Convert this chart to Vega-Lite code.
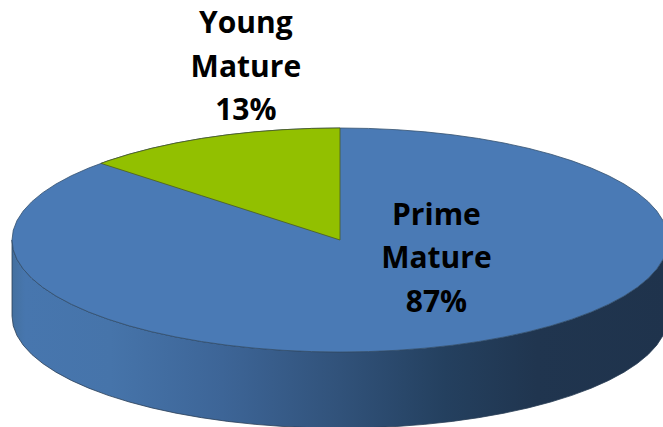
{
  "$schema": "https://vega.github.io/schema/vega-lite/v6.json",
  "width": 663,
  "height": 427,
  "padding": 0,
  "autosize": "none",
  "background": "white",
  "view": {"stroke": null},
  "datasets": {
    "disc": [
      {"x": -1, "top": 0, "bottom": 0, "base": -0.68},
      {"x": -0.9962, "top": 0.0872, "bottom": -0.0872, "base": -0.7672},
      {"x": -0.9848, "top": 0.1736, "bottom": -0.1736, "base": -0.8536},
      {"x": -0.9659, "top": 0.2588, "bottom": -0.2588, "base": -0.9388},
      {"x": -0.9397, "top": 0.342, "bottom": -0.342, "base": -1.022},
      {"x": -0.9063, "top": 0.4226, "bottom": -0.4226, "base": -1.1026},
      {"x": -0.866, "top": 0.5, "bottom": -0.5, "base": -1.18},
      {"x": -0.8192, "top": 0.5736, "bottom": -0.5736, "base": -1.2536},
      {"x": -0.766, "top": 0.6428, "bottom": -0.6428, "base": -1.3228},
      {"x": -0.7071, "top": 0.7071, "bottom": -0.7071, "base": -1.3871},
      {"x": -0.6428, "top": 0.766, "bottom": -0.766, "base": -1.446},
      {"x": -0.5736, "top": 0.8192, "bottom": -0.8192, "base": -1.4992},
      {"x": -0.5, "top": 0.866, "bottom": -0.866, "base": -1.546},
      {"x": -0.4226, "top": 0.9063, "bottom": -0.9063, "base": -1.5863},
      {"x": -0.342, "top": 0.9397, "bottom": -0.9397, "base": -1.6197},
      {"x": -0.2588, "top": 0.9659, "bottom": -0.9659, "base": -1.6459},
      {"x": -0.1736, "top": 0.9848, "bottom": -0.9848, "base": -1.6648},
      {"x": -0.0872, "top": 0.9962, "bottom": -0.9962, "base": -1.6762},
      {"x": 0, "top": 1, "bottom": -1, "base": -1.68},
      {"x": 0.0872, "top": 0.9962, "bottom": -0.9962, "base": -1.6762},
      {"x": 0.1736, "top": 0.9848, "bottom": -0.9848, "base": -1.6648},
      {"x": 0.2588, "top": 0.9659, "bottom": -0.9659, "base": -1.6459},
      {"x": 0.342, "top": 0.9397, "bottom": -0.9397, "base": -1.6197},
      {"x": 0.4226, "top": 0.9063, "bottom": -0.9063, "base": -1.5863},
      {"x": 0.5, "top": 0.866, "bottom": -0.866, "base": -1.546},
      {"x": 0.5736, "top": 0.8192, "bottom": -0.8192, "base": -1.4992},
      {"x": 0.6428, "top": 0.766, "bottom": -0.766, "base": -1.446},
      {"x": 0.7071, "top": 0.7071, "bottom": -0.7071, "base": -1.3871},
      {"x": 0.766, "top": 0.6428, "bottom": -0.6428, "base": -1.3228},
      {"x": 0.8192, "top": 0.5736, "bottom": -0.5736, "base": -1.2536},
      {"x": 0.866, "top": 0.5, "bottom": -0.5, "base": -1.18},
      {"x": 0.9063, "top": 0.4226, "bottom": -0.4226, "base": -1.1026},
      {"x": 0.9397, "top": 0.342, "bottom": -0.342, "base": -1.022},
      {"x": 0.9659, "top": 0.2588, "bottom": -0.2588, "base": -0.9388},
      {"x": 0.9848, "top": 0.1736, "bottom": -0.1736, "base": -0.8536},
      {"x": 0.9962, "top": 0.0872, "bottom": -0.0872, "base": -0.7672},
      {"x": 1, "top": 0, "bottom": 0, "base": -0.68}
    ],
    "youngSlice": [
      {"x": -0.729, "outer": 0.6845, "inner": 0.6845},
      {"x": -0.7071, "outer": 0.7071, "inner": 0.664},
      {"x": -0.6428, "outer": 0.766, "inner": 0.6036},
      {"x": -0.5736, "outer": 0.8192, "inner": 0.5386},
      {"x": -0.5, "outer": 0.866, "inner": 0.4695},
      {"x": -0.4226, "outer": 0.9063, "inner": 0.3968},
      {"x": -0.342, "outer": 0.9397, "inner": 0.3211},
      {"x": -0.2588, "outer": 0.9659, "inner": 0.243},
      {"x": -0.1736, "outer": 0.9848, "inner": 0.163},
      {"x": -0.0872, "outer": 0.9962, "inner": 0.0819},
      {"x": 0, "outer": 1, "inner": 0}
    ],
    "labels": [
      {"slice": "Young Mature", "share": 13, "x": -0.287, "y": 1.848, "label": "Young\nMature\n13%"},
      {"slice": "Prime Mature", "share": 87, "x": 0.294, "y": 0.134, "label": "Prime\nMature\n87%"}
    ]
  },
  "encoding": {
    "x": {
      "field": "x",
      "type": "quantitative",
      "axis": null,
      "scale": {"domain": [-1.0366, 0.9848], "nice": false, "zero": false}
    }
  },
  "layer": [
    {
      "data": {"name": "disc"},
      "mark": {
        "type": "area",
        "orient": "vertical",
        "clip": true,
        "stroke": "#2b3f57",
        "strokeWidth": 0.8,
        "color": {
          "gradient": "linear",
          "x1": 0, "y1": 0, "x2": 1, "y2": 0,
          "stops": [
            {"offset": 0, "color": "#44709f"},
            {"offset": 0.02, "color": "#4776ae"},
            {"offset": 0.15, "color": "#4674aa"},
            {"offset": 0.32, "color": "#3d6597"},
            {"offset": 0.5, "color": "#31527a"},
            {"offset": 0.66, "color": "#24405f"},
            {"offset": 0.8, "color": "#20354f"},
            {"offset": 1, "color": "#1f334c"}
          ]
        }
      },
      "encoding": {
        "y": {
          "field": "bottom",
          "type": "quantitative",
          "axis": null,
          "scale": {"domain": [-1.6696, 2.1429], "nice": false, "zero": false}
        },
        "y2": {"field": "base"}
      }
    },
    {
      "data": {"name": "disc"},
      "mark": {
        "type": "area",
        "orient": "vertical",
        "clip": true,
        "color": "#4a7ab5",
        "stroke": "#33506f",
        "strokeWidth": 0.8
      },
      "encoding": {
        "y": {"field": "top", "type": "quantitative"},
        "y2": {"field": "bottom"}
      }
    },
    {
      "data": {"name": "youngSlice"},
      "mark": {
        "type": "area",
        "orient": "vertical",
        "color": "#92c000",
        "stroke": "#4a5a20",
        "strokeWidth": 0.8
      },
      "encoding": {
        "y": {"field": "outer", "type": "quantitative"},
        "y2": {"field": "inner"}
      }
    },
    {
      "data": {"name": "labels"},
      "mark": {
        "type": "text",
        "font": "Open Sans",
        "fontWeight": "bold",
        "fontSize": 30,
        "lineHeight": 43.5,
        "lineBreak": "\n",
        "align": "center",
        "baseline": "alphabetic",
        "color": "#000000"
      },
      "encoding": {
        "y": {"field": "y", "type": "quantitative"},
        "text": {"field": "label"}
      }
    }
  ],
  "resolve": {"scale": {"y": "shared"}}
}
